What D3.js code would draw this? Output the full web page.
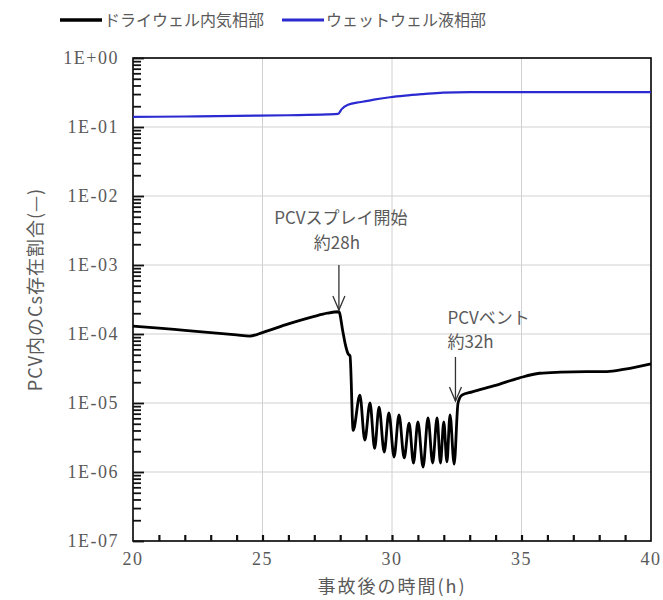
<!DOCTYPE html>
<html><head><meta charset="utf-8">
<script src="https://cdn.jsdelivr.net/npm/d3@7"></script>
<style>body{margin:0;background:#fff}</style>
</head><body>
<svg id="c" width="663" height="600"></svg>
<script>
const seriesNames = ["ドライウェル内気相部", "ウェットウェル液相部"];
const dryTime = [20,21,22,23,24,24.5,25,26,27,27.5,27.95,28.1,28.2,28.3,28.38,28.5,
  28.76,28.95,29.15,29.33,29.5,29.7,29.88,30.08,30.27,30.47,30.66,30.83,31.0,31.2,31.39,31.57,31.74,31.87,32.0,32.12,32.24,32.4,
  32.55,32.7,33.1,34,34.9,35.7,36.5,37.5,38.3,39,40];
const dryValue = [1.3e-4,1.22e-4,1.13e-4,1.05e-4,9.7e-5,9.3e-5,1.05e-4,1.4e-4,1.8e-4,2.0e-4,2.1e-4,1.1e-4,7e-5,5.2e-5,4.8e-5,4.0e-6,
  1.3e-5,2.9e-6,1.0e-5,2.2e-6,8.7e-6,1.95e-6,7.2e-6,1.65e-6,6.7e-6,1.6e-6,5.1e-6,1.35e-6,5.3e-6,1.18e-6,6.1e-6,1.35e-6,6.1e-6,1.35e-6,5.3e-6,1.4e-6,6.7e-6,1.3e-6,
  1.0e-5,1.3e-5,1.45e-5,1.8e-5,2.3e-5,2.7e-5,2.8e-5,2.85e-5,2.85e-5,3.1e-5,3.7e-5];
const wetTime = [20,22,24,26,27.5,27.92,28.05,28.3,28.8,29.3,29.92,30.5,31.2,31.97,33,35,40];
const wetValue = [0.14,0.142,0.145,0.148,0.152,0.155,0.18,0.21,0.23,0.25,0.27,0.285,0.3,0.315,0.32,0.32,0.32];
const xTicks = [20,25,30,35,40];
const yTickLabels = ["1E+00","1E-01","1E-02","1E-03","1E-04","1E-05","1E-06","1E-07"];
const annotations = [
  {t:27.95, lines:["PCVスプレイ開始","約28h"]},
  {t:32.45, lines:["PCVベント","約32h"]}
];

const svg = d3.select("#c");
const L=133,R=651,T=58,B=541;
const x = d3.scaleLinear().domain([20,40]).range([L,R]);
const y = d3.scaleLog().domain([1e-7,1]).range([B,T]);
const serif = "'Liberation Serif','DejaVu Serif',serif";
const cjk = "'Noto Sans CJK JP','Noto Sans CJK SC',sans-serif";
const txtCol = "#5a5a5a";

// grid
const g = svg.append("g");
g.selectAll("line.gx").data(xTicks.slice(1,-1)).enter().append("line")
  .attr("x1",d=>x(d)).attr("x2",d=>x(d)).attr("y1",T).attr("y2",B)
  .attr("stroke","#d0d0d0").attr("stroke-width",1);
const decades = d3.range(-6,0).map(e=>Math.pow(10,e));
g.selectAll("line.gy").data(decades).enter().append("line")
  .attr("x1",L).attr("x2",R).attr("y1",d=>y(d)).attr("y2",d=>y(d))
  .attr("stroke","#d0d0d0").attr("stroke-width",1);

// frame
svg.append("rect").attr("x",L).attr("y",T).attr("width",R-L).attr("height",B-T)
  .attr("fill","none").attr("stroke","#000").attr("stroke-width",1.6);

// ticks via d3 axes (inward)
const minorY=[];
for(let e=-7;e<0;e++) for(let m=2;m<=9;m++) minorY.push(m*Math.pow(10,e));
const majorY = d3.range(-7,1).map(e=>Math.pow(10,e));
function styleAxis(sel,w){ sel.select(".domain").remove(); sel.selectAll(".tick line").attr("stroke","#111").attr("stroke-width",w); }
svg.append("g").attr("transform",`translate(${L},0)`)
  .call(d3.axisLeft(y).tickValues(minorY).tickSize(-8).tickFormat(""))
  .call(s=>styleAxis(s,1.8));
svg.append("g").attr("transform",`translate(${L},0)`)
  .call(d3.axisLeft(y).tickValues(majorY).tickSize(-11).tickFormat(""))
  .call(s=>styleAxis(s,1.8));
svg.append("g").attr("transform",`translate(0,${B})`)
  .call(d3.axisBottom(x).tickValues(d3.range(21,40)).tickSize(-6).tickFormat(""))
  .call(s=>styleAxis(s,2.2));

// axes labels
svg.append("g").selectAll("text").data(xTicks).enter().append("text")
  .attr("x",d=>x(d)).attr("y",B+24).attr("text-anchor","middle")
  .attr("font-family",serif).attr("font-size",18).attr("letter-spacing",1.5).attr("fill",txtCol).text(d=>d);
svg.append("g").selectAll("text").data(yTickLabels).enter().append("text")
  .attr("x",L-14).attr("y",(d,i)=>y(Math.pow(10,-i))+6).attr("text-anchor","end")
  .attr("font-family",serif).attr("font-size",18).attr("letter-spacing",1.5).attr("fill",txtCol).text(d=>d);

// lines
const line = d3.line().x(d=>x(d[0])).y(d=>y(d[1])).curve(d3.curveMonotoneX);
svg.append("path").datum(wetTime.map((t,i)=>[t,wetValue[i]]))
  .attr("d",line).attr("fill","none").attr("stroke","#2a2ad0").attr("stroke-width",2.2);
svg.append("path").datum(dryTime.map((t,i)=>[t,dryValue[i]]))
  .attr("d",line).attr("fill","none").attr("stroke","#000").attr("stroke-width",2.8)
  .attr("stroke-linejoin","round");

// annotations
const a0 = annotations[0], a1 = annotations[1];
function arrow(xp,y1,y2){
  svg.append("line").attr("x1",xp).attr("x2",xp).attr("y1",y1).attr("y2",y2).attr("stroke","#333").attr("stroke-width",1.3);
  svg.append("path").attr("d",`M${xp-6},${y2-14}L${xp},${y2}L${xp+6},${y2-14}`).attr("fill","none").attr("stroke","#333").attr("stroke-width",1.3);
}
const ax0 = x(a0.t);
arrow(ax0, 265, 310);
svg.append("text").attr("x",ax0+2).attr("y",224).attr("text-anchor","middle")
  .attr("font-family",cjk).attr("font-size",17).attr("fill",txtCol).text(a0.lines[0]);
svg.append("text").attr("x",ax0-2).attr("y",249).attr("text-anchor","middle")
  .attr("font-family",cjk).attr("font-size",17).attr("fill",txtCol).text(a0.lines[1]);
const ax1 = x(a1.t);
arrow(ax1, 357, 401);
svg.append("text").attr("x",ax1-8).attr("y",324).attr("text-anchor","start")
  .attr("font-family",cjk).attr("font-size",17).attr("fill",txtCol).text(a1.lines[0]);
svg.append("text").attr("x",ax1-8).attr("y",348).attr("text-anchor","start")
  .attr("font-family",cjk).attr("font-size",17).attr("fill",txtCol).text(a1.lines[1]);

// axis titles
svg.append("text").attr("x",(L+R)/2).attr("y",593).attr("text-anchor","middle")
  .attr("font-family",cjk).attr("font-size",18).attr("letter-spacing",2).attr("fill",txtCol).text("事故後の時間(h)");
svg.append("text").attr("transform",`translate(42,${(T+B)/2-10}) rotate(-90)`).attr("text-anchor","middle")
  .attr("font-family",cjk).attr("font-size",18).attr("letter-spacing",1).attr("fill",txtCol).text("PCV内のCs存在割合(—)");

// legend
const leg = [{x1:60,col:"#000",w:3.5},{x1:282,col:"#2a2ad0",w:3}];
leg.forEach((l,i)=>{
  svg.append("line").attr("x1",l.x1).attr("x2",l.x1+42).attr("y1",20).attr("y2",20).attr("stroke",l.col).attr("stroke-width",l.w);
  svg.append("text").attr("x",l.x1+44).attr("y",26).attr("font-family",cjk).attr("font-size",16).attr("fill",txtCol).text(seriesNames[i]);
});
</script>
</body></html>
